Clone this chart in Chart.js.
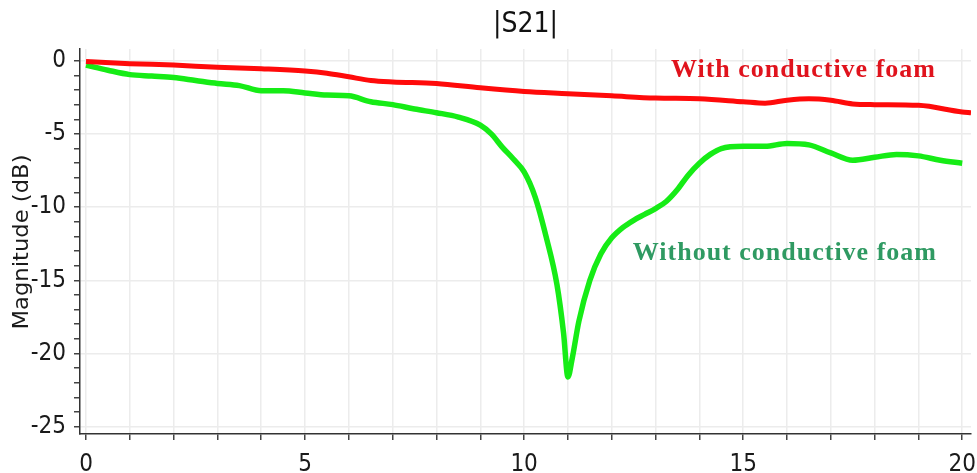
<!DOCTYPE html>
<html>
<head>
<meta charset="utf-8">
<title>|S21|</title>
<script src="https://cdn.jsdelivr.net/npm/chart.js@4.4.1/dist/chart.umd.min.js"></script>
<style>
  html, body { margin: 0; padding: 0; background: #fff; }
  #wrap { width: 977px; height: 473px; }
</style>
</head>
<body>
<div id="wrap"><canvas id="s21Chart" width="977" height="473"></canvas></div>
<script>
// Frequency (GHz) and |S21| (dB), with conductive foam
const freqWith = [0, 1, 2, 3, 4, 5, 5.5, 6, 6.5, 7, 8, 9, 10, 11, 12, 13, 14, 15, 15.5, 16, 16.5, 17, 17.5, 18, 19, 20, 20.2];
const s21With = [-0.05, -0.2, -0.3, -0.45, -0.55, -0.7, -0.85, -1.1, -1.35, -1.45, -1.55, -1.85, -2.1, -2.25, -2.4, -2.55, -2.6, -2.8, -2.9, -2.7, -2.6, -2.7, -2.95, -3.0, -3.05, -3.5, -3.55];

// Frequency (GHz) and |S21| (dB), without conductive foam
const freqWithout = [0, 0.5, 1, 1.5, 2, 2.5, 3, 3.5, 4, 4.5, 5, 5.5, 6, 6.5, 7, 7.5, 8, 8.5, 9, 9.25, 9.5, 9.75, 10, 10.25, 10.5, 10.75, 10.9, 11.0, 11.1, 11.25, 11.5, 11.75, 12.0, 12.25, 12.5, 12.75, 13.0, 13.25, 13.5, 13.75, 14.0, 14.25, 14.5, 15.0, 15.5, 16.0, 16.5, 17.0, 17.5, 18.0, 18.5, 19.0, 19.5, 20.0];
const s21Without = [-0.3, -0.65, -0.95, -1.05, -1.15, -1.35, -1.55, -1.7, -2.05, -2.05, -2.2, -2.35, -2.4, -2.8, -3.0, -3.3, -3.55, -3.85, -4.4, -5.0, -5.9, -6.7, -7.6, -9.3, -12.0, -15.3, -18.6, -21.6, -20.3, -17.8, -15.0, -13.2, -12.1, -11.4, -10.9, -10.5, -10.1, -9.6, -8.8, -7.8, -7.0, -6.4, -6.0, -5.85, -5.85, -5.65, -5.75, -6.3, -6.8, -6.6, -6.4, -6.5, -6.8, -7.0];

const xTickLabels = [0, 5, 10, 15, 20];
const yTickLabels = [0, -5, -10, -15, -20, -25];
const yAxisTitle = 'Magnitude (dB)';

// curve captions, anchored in data units (left edge, baseline)
const captions = [
  { text: 'With conductive foam', x: 13.35, y: -1.1, color: '#e0131d' },
  { text: 'Without conductive foam', x: 12.48, y: -13.6, color: '#2f9a62' }
];

const tickFont = "'DejaVu Sans Condensed', 'Liberation Sans', sans-serif";

function toPoints(xs, ys) {
  return xs.map((x, i) => ({ x: x, y: ys[i] }));
}

// captions next to the curves + the rotated y-axis title
const annotatePlugin = {
  id: 'annotate',
  afterDraw(chart) {
    const ctx = chart.ctx;
    const xs = chart.scales.x;
    const ys = chart.scales.y;
    ctx.save();
    ctx.font = "bold 26px 'Liberation Serif', 'Times New Roman', serif";
    ctx.letterSpacing = '1px';
    ctx.textAlign = 'left';
    ctx.textBaseline = 'alphabetic';
    captions.forEach(c => {
      ctx.fillStyle = c.color;
      ctx.fillText(c.text, xs.getPixelForValue(c.x), ys.getPixelForValue(c.y));
    });
    ctx.restore();

    // axis title, stretched along the axis to ~175px
    ctx.save();
    ctx.font = "21px 'DejaVu Sans', sans-serif";
    ctx.fillStyle = '#1a1a1a';
    ctx.textAlign = 'center';
    ctx.textBaseline = 'middle';
    const w = ctx.measureText(yAxisTitle).width;
    ctx.translate(23, 242);
    ctx.rotate(-Math.PI / 2);
    ctx.scale(175 / w, 1);
    ctx.fillText(yAxisTitle, 0, 0);
    ctx.restore();
  }
};

const ctx = document.getElementById('s21Chart').getContext('2d');
const s21Chart = new Chart(ctx, {
  type: 'line',
  data: {
    datasets: [{
      label: 'With conductive foam',
      data: toPoints(freqWith, s21With),
      borderColor: '#ff0a0a',
      borderWidth: 5,
      pointRadius: 0,
      cubicInterpolationMode: 'monotone',
      fill: false
    }, {
      label: 'Without conductive foam',
      data: toPoints(freqWithout, s21Without),
      borderColor: '#16ec16',
      borderWidth: 5.5,
      pointRadius: 0,
      cubicInterpolationMode: 'monotone',
      fill: false
    }]
  },
  options: {
    responsive: false,
    animation: false,
    layout: { padding: { left: 0, right: 6, top: 0, bottom: 0 } },
    plugins: {
      legend: { display: false },
      tooltip: { enabled: false },
      title: {
        display: true,
        text: '|S21|',
        fullSize: false,
        color: '#111',
        font: { family: tickFont, size: 28, weight: 'normal', lineHeight: 1.2 },
        padding: { top: 8, bottom: 7.4 }
      }
    },
    scales: {
      x: {
        type: 'linear',
        min: -0.137,
        max: 20.2,
        afterFit(scale) {
          scale.height = 39;
          // let the last label hang past the plot edge
          scale.paddingLeft = 0;
          scale.paddingRight = 0;
        },
        ticks: {
          stepSize: 1,
          includeBounds: false,
          autoSkip: false,
          maxRotation: 0,
          padding: 10,
          color: '#1a1a1a',
          font: { family: tickFont, size: 24 },
          callback: v => xTickLabels.includes(v) ? String(v) : ''
        },
        grid: {
          color: '#ececec',
          lineWidth: 1.5,
          tickColor: '#444',
          tickLength: 6
        },
        border: { display: true, color: '#333', width: 1.5 }
      },
      y: {
        type: 'linear',
        min: -25.5,
        max: 0.8,
        afterFit(scale) { scale.width = 80; },
        ticks: {
          stepSize: 1,
          includeBounds: false,
          autoSkip: false,
          padding: 8,
          color: '#1a1a1a',
          font: { family: tickFont, size: 24 },
          callback: v => yTickLabels.includes(v) ? String(v) : ''
        },
        grid: {
          color: c => (c.tick && c.tick.value % 5 === 0) ? '#ececec' : 'rgba(0,0,0,0)',
          lineWidth: 1.5,
          tickColor: '#444',
          tickLength: 6
        },
        border: { display: true, color: '#333', width: 1.5 }
      }
    }
  },
  plugins: [annotatePlugin]
});
</script>
</body>
</html>
